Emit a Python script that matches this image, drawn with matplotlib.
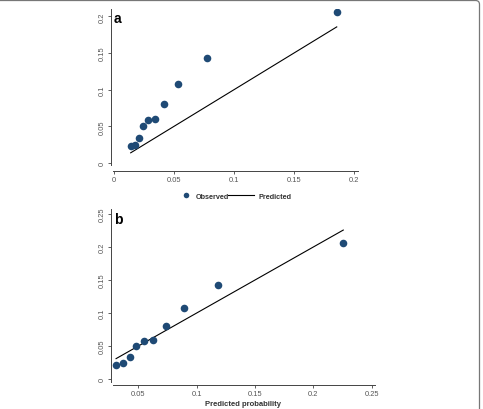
import matplotlib
matplotlib.use("Agg")
import matplotlib.pyplot as plt
from matplotlib.lines import Line2D
from matplotlib.patches import FancyBboxPatch
from matplotlib.transforms import IdentityTransform

plt.rcParams["font.family"] = ["Liberation Sans", "DejaVu Sans"]

# observed event rate per risk decile
observed = [0.0232, 0.025, 0.0345, 0.0505, 0.0586, 0.060, 0.0805, 0.108, 0.1427, 0.2059]
# mean predicted probability per decile, panel a and panel b models
pred_a = [0.0139, 0.0175, 0.0206, 0.0242, 0.0286, 0.0344, 0.0417, 0.0536, 0.0772, 0.1856]
pred_b = [0.0309, 0.0371, 0.0426, 0.0483, 0.0546, 0.0629, 0.0734, 0.0891, 0.118, 0.2257]
obs_b = [0.0217, 0.0247, 0.0338, 0.050, 0.0581, 0.0591, 0.0803, 0.1076, 0.1424, 0.206]

ticks_a_x = [0, 0.05, 0.1, 0.15, 0.2]
ticks_a_y = [0, 0.05, 0.1, 0.15, 0.2]
ticks_b_x = [0.05, 0.1, 0.15, 0.2, 0.25]
ticks_b_y = [0, 0.05, 0.1, 0.15, 0.2, 0.25]

DOT = "#1f4a75"
AX = "#444444"
TXT = "#555555"

W, H = 483, 410
fig = plt.figure(figsize=(W / 100, H / 100), dpi=100)


def fmt(v):
    return "0" if v == 0 else f"{v:g}"


def style(ax, xt, yt, xlim, ylim, lb, bb):
    ax.set_xlim(*xlim); ax.set_ylim(*ylim)
    for s in ("top", "right"):
        ax.spines[s].set_visible(False)
    for s in ("left", "bottom"):
        ax.spines[s].set_color(AX); ax.spines[s].set_linewidth(0.7)
    ax.spines["left"].set_bounds(lb, ylim[1])
    ax.spines["bottom"].set_bounds(bb, xlim[1])
    ax.set_xticks(xt); ax.set_xticklabels([fmt(v) for v in xt])
    ax.set_yticks(yt); ax.set_yticklabels([fmt(v) for v in yt], rotation=90, va="center")
    ax.tick_params(length=2.2, width=0.6, color=AX, labelsize=5.4, labelcolor=TXT, pad=1.5)
    ax.patch.set_alpha(0)


def axes_px(x0, x1, ytop, ybot):
    return fig.add_axes([x0 / W, 1 - ybot / H, (x1 - x0) / W, (ybot - ytop) / H])


# panel a
axa = axes_px(110.7, 358, 10, 172.3)
axa.scatter(pred_a, observed, s=30, color=DOT, zorder=3, linewidths=0)
axa.plot([pred_a[0], pred_a[-1]], [pred_a[0], pred_a[-1]], color="black", lw=0.8)
style(axa, ticks_a_x, ticks_a_y, (-0.00275, 0.2033), (-0.0113, 0.21), -0.0027, -0.0011)
axa.text(0.012, 0.985, "a", transform=axa.transAxes, fontsize=10, fontweight="bold",
         va="top", ha="left")

# panel b
axb = axes_px(110.7, 375, 210, 385.7)
axb.scatter(pred_b, obs_b, s=30, color=DOT, zorder=3, linewidths=0)
axb.plot([pred_b[0], pred_b[-1]], [pred_b[0], pred_b[-1]], color="black", lw=0.8)
style(axb, ticks_b_x, ticks_b_y, (0.0263, 0.2529), (-0.0086, 0.2576), -0.0045, 0.028)
axb.text(0.012, 0.985, "b", transform=axb.transAxes, fontsize=10, fontweight="bold",
         va="top", ha="left")
axb.set_xlabel("Predicted probability", fontsize=5.5, fontweight="bold", color="#333333",
               labelpad=2)

# legend (two pieces to match the uneven handle widths)
h1 = Line2D([], [], ls="none", marker="o", ms=4, color=DOT, mec="none")
h2 = Line2D([], [], color="black", lw=0.8)
lp = dict(frameon=False, borderpad=0, borderaxespad=0, loc="center left",
          prop={"size": 5.2, "weight": "bold"}, labelcolor="#333333")
fig.legend([h1], ["Observed"], bbox_to_anchor=(182.4 / W, 1 - 197 / H),
           handlelength=1, handletextpad=0.9, **lp)
fig.legend([h2], ["Predicted"], bbox_to_anchor=(227.7 / W, 1 - 197 / H),
           handlelength=3.6, handletextpad=0.7, **lp)

# partial rounded frame (top and right edges only)
frame = FancyBboxPatch((-20, -20), 499.5, 428.5, boxstyle="round,pad=0,rounding_size=4",
                       transform=IdentityTransform(), fill=False, ec="#777777", lw=0.9)
fig.patches.append(frame)

fig.savefig("out.png", dpi=100)
